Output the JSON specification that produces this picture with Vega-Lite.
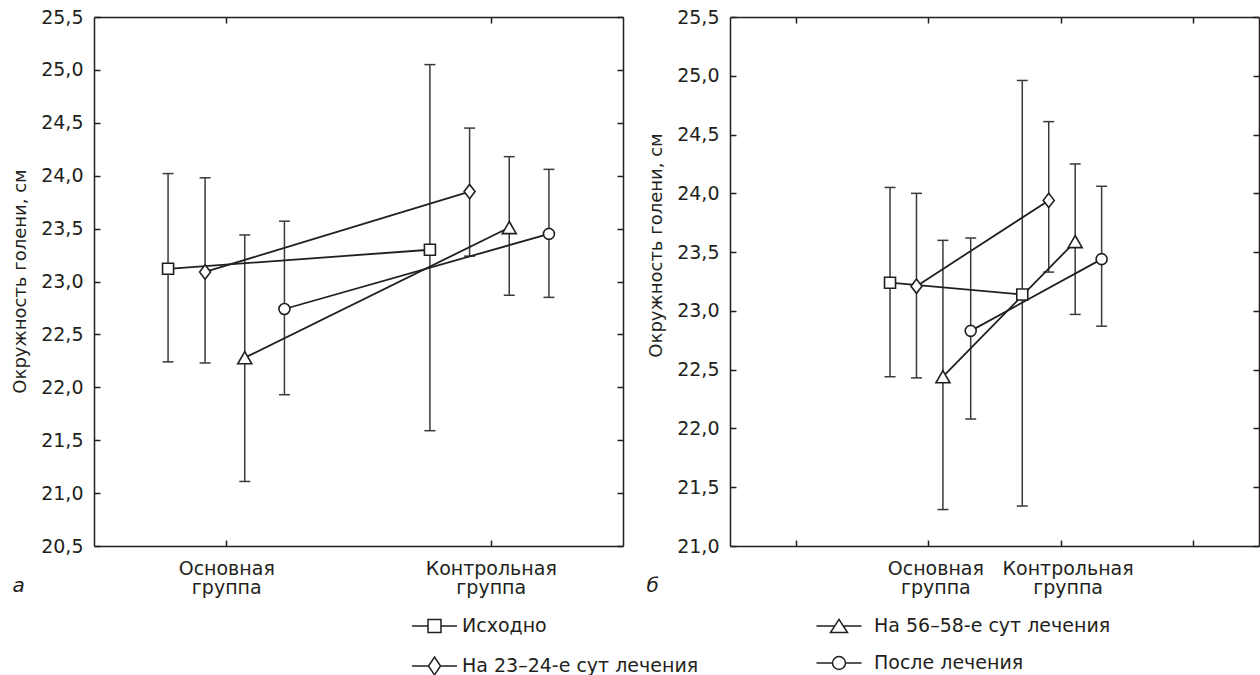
{
  "$schema": "https://vega.github.io/schema/vega-lite/v6.json",
  "background": "white",
  "padding": {"left": 11, "top": 8, "right": 0, "bottom": 0},
  "spacing": 107,
  "bounds": "flush",
  "config": {
    "view": {"stroke": null},
    "font": "DejaVu Sans",
    "axis": {
      "domainColor": "#231f20", "domainWidth": 1.5,
      "tickColor": "#231f20", "tickWidth": 1.5, "tickSize": -6,
      "labelFont": "DejaVu Sans", "labelFontSize": 19, "labelColor": "#231f20",
      "labelPadding": 17, "grid": false,
      "titleFont": "DejaVu Sans", "titleFontSize": 18, "titleFontWeight": "normal", "titleColor": "#231f20"
    }
  },
  "datasets": {
    "d": [
      {"panel": "a", "group": "Основная группа", "series": "Исходно", "x": 0.78, "y": 23.12, "lo": 22.24, "hi": 24.02},
      {"panel": "a", "group": "Контрольная группа", "series": "Исходно", "x": 1.77, "y": 23.30, "lo": 21.59, "hi": 25.05},
      {"panel": "a", "group": "Основная группа", "series": "На 23–24-е сут лечения", "x": 0.92, "y": 23.09, "lo": 22.23, "hi": 23.98},
      {"panel": "a", "group": "Контрольная группа", "series": "На 23–24-е сут лечения", "x": 1.92, "y": 23.85, "lo": 23.24, "hi": 24.45},
      {"panel": "a", "group": "Основная группа", "series": "На 56–58-е сут лечения", "x": 1.07, "y": 22.28, "lo": 21.11, "hi": 23.44},
      {"panel": "a", "group": "Контрольная группа", "series": "На 56–58-е сут лечения", "x": 2.07, "y": 23.51, "lo": 22.87, "hi": 24.18},
      {"panel": "a", "group": "Основная группа", "series": "После лечения", "x": 1.22, "y": 22.74, "lo": 21.93, "hi": 23.57},
      {"panel": "a", "group": "Контрольная группа", "series": "После лечения", "x": 2.22, "y": 23.45, "lo": 22.85, "hi": 24.06},
      {"panel": "b", "group": "Основная группа", "series": "Исходно", "x": 1.71, "y": 23.24, "lo": 22.44, "hi": 24.05},
      {"panel": "b", "group": "Контрольная группа", "series": "Исходно", "x": 2.71, "y": 23.14, "lo": 21.34, "hi": 24.96},
      {"panel": "b", "group": "Основная группа", "series": "На 23–24-е сут лечения", "x": 1.91, "y": 23.21, "lo": 22.43, "hi": 24.00},
      {"panel": "b", "group": "Контрольная группа", "series": "На 23–24-е сут лечения", "x": 2.91, "y": 23.94, "lo": 23.33, "hi": 24.61},
      {"panel": "b", "group": "Основная группа", "series": "На 56–58-е сут лечения", "x": 2.11, "y": 22.44, "lo": 21.31, "hi": 23.60},
      {"panel": "b", "group": "Контрольная группа", "series": "На 56–58-е сут лечения", "x": 3.11, "y": 23.59, "lo": 22.97, "hi": 24.25},
      {"panel": "b", "group": "Основная группа", "series": "После лечения", "x": 2.32, "y": 22.83, "lo": 22.08, "hi": 23.62},
      {"panel": "b", "group": "Контрольная группа", "series": "После лечения", "x": 3.31, "y": 23.44, "lo": 22.87, "hi": 24.06}
    ]
  },
  "hconcat": [
    {
      "width": 529, "height": 529,
      "data": {"name": "d"},
      "transform": [{"filter": "datum.panel == 'a'"}],
      "layer": [
        {
          "mark": {"type": "rule", "color": "#3a3a3a", "strokeWidth": 1.5},
          "encoding": {
            "x": {"field": "x", "type": "quantitative",
                  "scale": {"domain": [0.5, 2.5], "nice": false, "zero": false},
                  "axis": {"orient": "bottom", "values": [1, 2],
                           "labelExpr": "datum.value == 1 ? ['Основная','группа'] : ['Контрольная','группа']",
                           "labelLineHeight": 19, "labelPadding": 19,
                           "title": "а", "titleX": -82, "titleY": 45, "titleAlign": "left", "titleBaseline": "alphabetic",
                           "titleFontStyle": "italic", "titleFontSize": 20}},
            "y": {"field": "lo", "type": "quantitative",
                  "scale": {"domain": [20.5, 25.5], "nice": false, "zero": false},
                  "axis": {"orient": "left", "values": [20.5, 21, 21.5, 22, 22.5, 23, 23.5, 24, 24.5, 25, 25.5],
                           "labelExpr": "replace(format(datum.value, '.1f'), '.', ',')",
                           "title": "Окружность голени, см", "titleX": -74, "titleY": 264, "titleAngle": -90,
                           "titleAlign": "center", "titleBaseline": "middle"}},
            "y2": {"field": "hi"}
          }
        },
        {
          "mark": {"type": "tick", "orient": "horizontal", "size": 11, "thickness": 1.5, "color": "#3a3a3a", "opacity": 1},
          "encoding": {
            "x": {"field": "x", "type": "quantitative", "axis": null},
            "y": {"field": "lo", "type": "quantitative", "axis": null}
          }
        },
        {
          "mark": {"type": "tick", "orient": "horizontal", "size": 11, "thickness": 1.5, "color": "#3a3a3a", "opacity": 1},
          "encoding": {
            "x": {"field": "x", "type": "quantitative", "axis": null},
            "y": {"field": "hi", "type": "quantitative", "axis": null}
          }
        },
        {
          "mark": {"type": "line", "color": "#231f20", "strokeWidth": 1.8},
          "encoding": {
            "x": {"field": "x", "type": "quantitative", "axis": null},
            "y": {"field": "y", "type": "quantitative", "axis": null},
            "detail": {"field": "series", "type": "nominal"}
          }
        },
        {
          "mark": {"type": "point", "filled": true, "fill": "white", "stroke": "#231f20", "strokeWidth": 1.6, "size": 121, "opacity": 1},
          "encoding": {
            "x": {"field": "x", "type": "quantitative", "axis": {"orient": "top", "values": [1, 2], "labels": false, "title": null}},
            "y": {"field": "y", "type": "quantitative", "axis": {"orient": "right", "values": [20.5, 21, 21.5, 22, 22.5, 23, 23.5, 24, 24.5, 25, 25.5], "labels": false, "title": null}},
            "shape": {"field": "series", "type": "nominal", "legend": null,
                      "scale": {"domain": ["Исходно", "На 23–24-е сут лечения", "На 56–58-е сут лечения", "После лечения"],
                                "range": ["M-1,-1H1V1H-1Z", "M0,-1.3L1,0L0,1.3L-1,0Z", "M0,-1.1L1.27,1.1L-1.27,1.1Z", "circle"]}}
          }
        },
        {
          "transform": [{"filter": "datum.series == 'Исходно' || datum.series == 'На 23–24-е сут лечения'"}],
          "mark": {"type": "point", "filled": true, "fill": "white", "stroke": "#231f20", "strokeWidth": 1.6, "size": 0, "opacity": 1},
          "encoding": {
            "x": {"field": "x", "type": "quantitative", "axis": null},
            "y": {"field": "y", "type": "quantitative", "axis": null},
            "shape": {"field": "series", "type": "nominal",
                      "scale": {"domain": ["Исходно", "На 23–24-е сут лечения"],
                                "range": ["M-3.75,0H-1.08M1.08,0H3.75M-1.08,-1.08H1.08V1.08H-1.08Z", "M-3.75,0H-1M1,0H3.75M0,-1.5L1,0L0,1.5L-1,0Z"]},
                      "legend": {"orient": "none", "legendX": 331, "legendY": 599.5, "title": null, "padding": 0,
                                 "labelFont": "DejaVu Sans", "labelFontSize": 19, "labelColor": "#231f20", "labelLimit": 0,
                                 "symbolSize": 144, "labelOffset": 18, "rowPadding": 17}}
          }
        }
      ],
      "resolve": {"axis": {"x": "independent", "y": "independent"}, "scale": {"shape": "independent"}}
    },
    {
      "width": 529, "height": 529,
      "data": {"name": "d"},
      "transform": [{"filter": "datum.panel == 'b'"}],
      "layer": [
        {
          "mark": {"type": "rule", "color": "#3a3a3a", "strokeWidth": 1.5},
          "encoding": {
            "x": {"field": "x", "type": "quantitative",
                  "scale": {"domain": [0.5, 4.5], "nice": false, "zero": false},
                  "axis": {"orient": "bottom", "values": [1, 2, 3, 4],
                           "labelExpr": "datum.value == 2 ? ['Основная','группа'] : datum.value == 3 ? ['Контрольная','группа'] : ''",
                           "labelLineHeight": 19, "labelPadding": 19, "labelOffset": 7,
                           "title": "б", "titleX": -84, "titleY": 45, "titleAlign": "left", "titleBaseline": "alphabetic",
                           "titleFontStyle": "italic", "titleFontSize": 20}},
            "y": {"field": "lo", "type": "quantitative",
                  "scale": {"domain": [21, 25.5], "nice": false, "zero": false},
                  "axis": {"orient": "left", "values": [21, 21.5, 22, 22.5, 23, 23.5, 24, 24.5, 25, 25.5],
                           "labelExpr": "replace(format(datum.value, '.1f'), '.', ',')",
                           "title": "Окружность голени, см", "titleX": -74, "titleY": 228, "titleAngle": -90,
                           "titleAlign": "center", "titleBaseline": "middle"}},
            "y2": {"field": "hi"}
          }
        },
        {
          "mark": {"type": "tick", "orient": "horizontal", "size": 11, "thickness": 1.5, "color": "#3a3a3a", "opacity": 1},
          "encoding": {
            "x": {"field": "x", "type": "quantitative", "axis": null},
            "y": {"field": "lo", "type": "quantitative", "axis": null}
          }
        },
        {
          "mark": {"type": "tick", "orient": "horizontal", "size": 11, "thickness": 1.5, "color": "#3a3a3a", "opacity": 1},
          "encoding": {
            "x": {"field": "x", "type": "quantitative", "axis": null},
            "y": {"field": "hi", "type": "quantitative", "axis": null}
          }
        },
        {
          "mark": {"type": "line", "color": "#231f20", "strokeWidth": 1.8},
          "encoding": {
            "x": {"field": "x", "type": "quantitative", "axis": null},
            "y": {"field": "y", "type": "quantitative", "axis": null},
            "detail": {"field": "series", "type": "nominal"}
          }
        },
        {
          "mark": {"type": "point", "filled": true, "fill": "white", "stroke": "#231f20", "strokeWidth": 1.6, "size": 121, "opacity": 1},
          "encoding": {
            "x": {"field": "x", "type": "quantitative", "axis": {"orient": "top", "values": [1, 2, 3, 4], "labels": false, "title": null}},
            "y": {"field": "y", "type": "quantitative", "axis": {"orient": "right", "values": [21, 21.5, 22, 22.5, 23, 23.5, 24, 24.5, 25, 25.5], "labels": false, "title": null}},
            "shape": {"field": "series", "type": "nominal", "legend": null,
                      "scale": {"domain": ["Исходно", "На 23–24-е сут лечения", "На 56–58-е сут лечения", "После лечения"],
                                "range": ["M-1,-1H1V1H-1Z", "M0,-1.3L1,0L0,1.3L-1,0Z", "M0,-1.1L1.27,1.1L-1.27,1.1Z", "circle"]}}
          }
        },
        {
          "transform": [{"filter": "datum.series == 'На 56–58-е сут лечения' || datum.series == 'После лечения'"}],
          "mark": {"type": "point", "filled": true, "fill": "white", "stroke": "#231f20", "strokeWidth": 1.6, "size": 0, "opacity": 1},
          "encoding": {
            "x": {"field": "x", "type": "quantitative", "axis": null},
            "y": {"field": "y", "type": "quantitative", "axis": null},
            "shape": {"field": "series", "type": "nominal",
                      "scale": {"domain": ["На 56–58-е сут лечения", "После лечения"],
                                "range": ["M-3.75,0H-0.71M0.71,0H3.75M0,-1.1L1.42,1.1L-1.42,1.1Z", "M-3.75,0H-1.08M1.08,0H3.75M1.08,0A1.08,1.08,0,1,1,-1.08,0A1.08,1.08,0,1,1,1.08,0Z"]},
                      "legend": {"orient": "none", "legendX": 99.5, "legendY": 599.5, "title": null, "padding": 0,
                                 "labelFont": "DejaVu Sans", "labelFontSize": 19, "labelColor": "#231f20", "labelLimit": 0,
                                 "symbolSize": 144, "labelOffset": 25.5, "rowPadding": 17}}
          }
        }
      ],
      "resolve": {"axis": {"x": "independent", "y": "independent"}, "scale": {"shape": "independent"}}
    }
  ]
}
